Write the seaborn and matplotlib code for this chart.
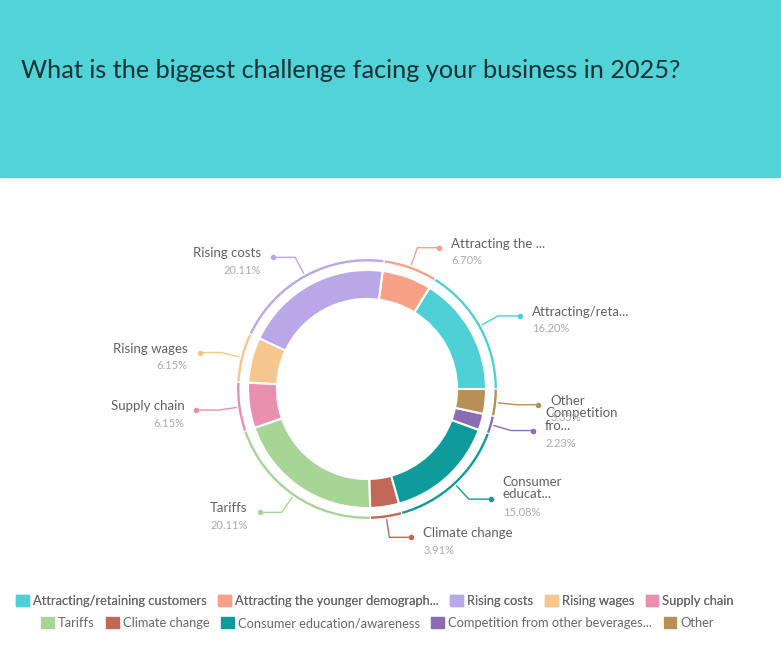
import numpy as np
import matplotlib.pyplot as plt
import seaborn as sns
from matplotlib.patches import Rectangle
from matplotlib.lines import Line2D

categories = ["Attracting/retaining customers", "Attracting the younger demographic",
              "Rising costs", "Rising wages", "Supply chain", "Tariffs", "Climate change",
              "Consumer education/awareness", "Competition from other beverages", "Other"]
values = [16.20, 6.70, 20.11, 6.15, 6.15, 20.11, 3.91, 15.08, 2.23, 3.35]
pie_labels = ["Attracting/reta...", "Attracting the ...", "Rising costs", "Rising wages",
              "Supply chain", "Tariffs", "Climate change", "Consumer\neducat...",
              "Competition\nfro...", "Other"]
legend_labels = ["Attracting/retaining customers", "Attracting the younger demograph...",
                 "Rising costs", "Rising wages", "Supply chain", "Tariffs", "Climate change",
                 "Consumer education/awareness", "Competition from other beverages...", "Other"]
colors = ["#4fd0d6", "#f7a287", "#b9a7e8", "#f5c78f", "#e890ae",
          "#a6d596", "#c26857", "#0f9b9b", "#8a6cb3", "#b98f58"]

sns.set_theme(style="white")
plt.rcParams['font.family'] = ['Lato', 'DejaVu Sans']

W, H = 781, 653
fig = plt.figure(figsize=(W / 100, H / 100), dpi=100)
ax = fig.add_axes([0, 0, 1, 1])

# header band + title
ax.add_patch(Rectangle((0, H - 177), W, 177, color="#52d3d8", zorder=0))
ax.text(21, H - 71, "What is the biggest challenge facing your business in 2025?",
        fontsize=18.2, fontweight="normal", color="#1a3236", va="center", ha="left")

cx, cy = 367, H - 389
R = 119
pal = sns.color_palette(colors)
wedges, _ = ax.pie(values, colors=pal, center=(cx, cy), radius=R, startangle=0,
                   wedgeprops=dict(width=29, edgecolor="white", linewidth=1.5))
ax.pie(values, colors=pal, center=(cx, cy), radius=130.5, startangle=0,
       wedgeprops=dict(width=3.5, edgecolor="white", linewidth=0.8))

# data labels with connectors
for w, name, col, v in zip(wedges, pie_labels, colors, values):
    mid = np.deg2rad((w.theta1 + w.theta2) / 2)
    ux, uy = np.cos(mid), np.sin(mid)
    side = 1 if ux >= 0 else -1
    x0, y0 = cx + 132 * ux, cy + 132 * uy
    x1, y1 = cx + 150 * ux, cy + 150 * uy
    x2 = x1 + side * 22
    ax.add_line(Line2D([x0, x1, x2], [y0, y1, y1], color=col, lw=1))
    ax.plot(x2, y1, "o", color=col, ms=3)
    tx = x2 + side * 12
    ha = "left" if side > 0 else "right"
    n = name.count("\n") + 1
    ax.text(tx, y1 + 4 + 7 * (n - 1), name, fontsize=9.5, color="#606060",
            ha=ha, va="center", linespacing=1.05)
    ax.text(tx, y1 - 13, f"{v:.2f}%", fontsize=8, color="#aaaaaa", ha=ha, va="center")

ax.set_xlim(0, W)
ax.set_ylim(0, H)
ax.axis("off")

# legend in two flowing rows
handles = [Rectangle((0, 0), 1, 1, color=c) for c in colors]
kw = dict(ncol=5, frameon=False, fontsize=9.3, handlelength=1.0, handleheight=1.0,
          handletextpad=0.3, columnspacing=0.9, labelcolor="#666666", borderaxespad=0)
leg1 = fig.legend(handles[:5], legend_labels[:5], loc="center", bbox_to_anchor=(0.48, 1 - 601 / H), **kw)
fig.add_artist(leg1)
fig.legend(handles[5:], legend_labels[5:], loc="center", bbox_to_anchor=(0.483, 1 - 623 / H), **kw)

fig.savefig("out.png", dpi=100)
plt.close()
